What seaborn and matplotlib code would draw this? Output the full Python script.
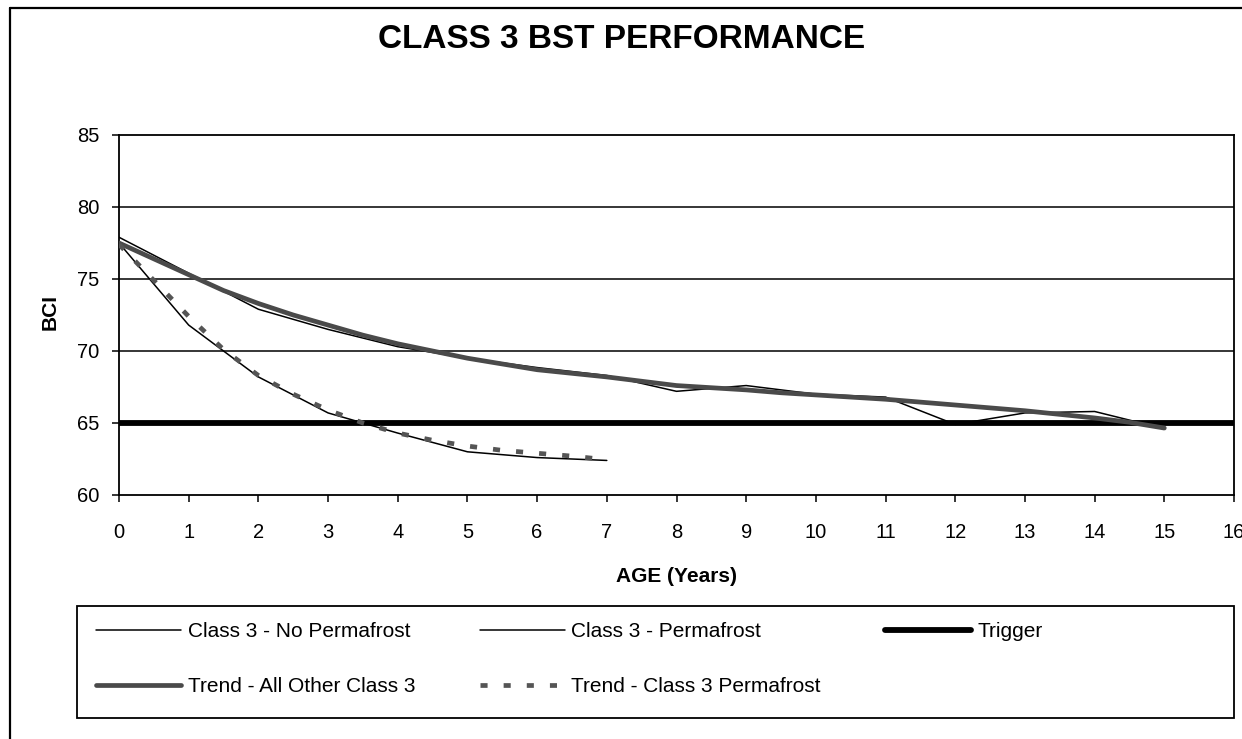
import matplotlib
matplotlib.use('Agg')
import matplotlib.pyplot as plt
from matplotlib.lines import Line2D
from matplotlib.patches import Rectangle
import seaborn as sns

# Data
age_no_perm = list(range(16))
bci_no_perm = [77.9, 75.4, 72.9, 71.5, 70.3, 69.5, 68.85, 68.3,
               67.2, 67.6, 67.0, 66.8, 64.9, 65.7, 65.8, 64.6]

age_perm = list(range(8))
bci_perm = [77.5, 71.8, 68.2, 65.7, 64.3, 63.0, 62.6, 62.4]

age_trigger = [0, 16]
bci_trigger = [65, 65]

age_trend_all = [0, 0.5, 1, 1.5, 2, 2.5, 3, 3.5, 4, 4.5, 5, 5.5, 6, 6.5, 7, 7.5,
                 8, 8.5, 9, 9.5, 10, 10.5, 11, 11.5, 12, 12.5, 13, 13.5, 14, 14.5, 15]
bci_trend_all = [77.5, 76.4, 75.3, 74.2, 73.3, 72.5, 71.8, 71.1, 70.5, 70.0, 69.5,
                 69.1, 68.7, 68.45, 68.2, 67.9, 67.6, 67.45, 67.3, 67.1, 66.95,
                 66.8, 66.65, 66.45, 66.25, 66.05, 65.85, 65.6, 65.35, 65.05, 64.65]

age_trend_perm = [0, 0.5, 1, 1.5, 2, 2.5, 3, 3.5, 4, 4.5, 5, 5.5, 6, 6.5, 7]
bci_trend_perm = [77.4, 74.9, 72.4, 70.1, 68.3, 67.0, 65.9, 65.0, 64.3, 63.8,
                  63.4, 63.1, 62.9, 62.7, 62.45]

x_ticks = list(range(17))
y_ticks = [60, 65, 70, 75, 80, 85]

sns.set_style('white')
plt.rcParams['font.family'] = ['Liberation Sans', 'DejaVu Sans']
plt.rcParams['text.color'] = 'black'

W, H = 1242, 739
fig = plt.figure(figsize=(W / 100, H / 100), dpi=100)
ax = fig.add_axes([119 / W, 1 - 495 / H, (1234 - 119) / W, (495 - 135) / H])

# horizontal gridlines
for v in y_ticks[1:-1]:
    ax.axhline(v, color='black', lw=1.1, zorder=1)

sns.lineplot(x=age_no_perm, y=bci_no_perm, ax=ax, color='black', lw=1.1,
             label='Class 3 - No Permafrost', zorder=3)
sns.lineplot(x=age_perm, y=bci_perm, ax=ax, color='black', lw=1.1,
             label='Class 3 - Permafrost', zorder=3)
sns.lineplot(x=age_trigger, y=bci_trigger, ax=ax, color='black', lw=4.2,
             label='Trigger', zorder=4)
sns.lineplot(x=age_trend_all, y=bci_trend_all, ax=ax, color='#4a4a4a', lw=3.4,
             label='Trend - All Other Class 3', zorder=5)
sns.lineplot(x=age_trend_perm, y=bci_trend_perm, ax=ax, color='#555555', lw=3.4,
             label='Trend - Class 3 Permafrost', zorder=5)
ax.lines[-1].set_dashes((1.5, 3.4))
ax.lines[-1].set_dash_capstyle('butt')

ax.set_xlim(0, 16)
ax.set_ylim(60, 85)
ax.set_xticks(x_ticks)
ax.set_yticks(y_ticks)
for s in ax.spines.values():
    s.set_color('black')
    s.set_linewidth(1.3)
ax.tick_params(axis='y', direction='out', length=5, width=1.1, pad=9,
               labelsize=14.5, left=True, colors='black')
ax.tick_params(axis='x', direction='out', length=5, width=1.1, pad=15,
               labelsize=14.5, bottom=True, colors='black')
ax.set_xlabel('')
ax.set_ylabel('')

fig.text(676 / W, 1 - 577 / H, 'AGE (Years)', ha='center', va='center',
         fontsize=15, fontweight='bold')
fig.text(50 / W, 1 - 312 / H, 'BCI', ha='center', va='center', rotation=90,
         fontsize=15, fontweight='bold')
fig.text(622 / W, 1 - 40 / H, 'CLASS 3 BST PERFORMANCE', ha='center',
         va='center', fontsize=24, fontweight='bold')

# legend (row-wise order through column-major fill)
handles, labels = ax.get_legend_handles_labels()
ax.get_legend().remove()
order = [0, 3, 1, 4, 2]
leg = fig.legend([handles[i] for i in order], [labels[i] for i in order],
                 loc='upper left', bbox_to_anchor=(96 / W, 1 - 622 / H),
                 ncol=3, frameon=False, fontsize=15, handlelength=4.1,
                 handletextpad=0.3, labelspacing=1.74, columnspacing=3.1,
                 borderpad=0, borderaxespad=0)
for t in leg.get_texts():
    t.set_color('black')
fig.patches.append(Rectangle((77 / W, 1 - 718 / H), (1234 - 77) / W, 112 / H,
                             transform=fig.transFigure, fill=False,
                             edgecolor='black', lw=1.3))

# outer chart border (runs off the image at right and bottom)
fig.lines.append(Line2D([10 / W, 10 / W], [-0.1, 1 - 8 / H],
                        transform=fig.transFigure, color='black', lw=1.6))
fig.lines.append(Line2D([10 / W, 1.1], [1 - 8 / H, 1 - 8 / H],
                        transform=fig.transFigure, color='black', lw=1.6))

fig.savefig('out.png', dpi=100)
